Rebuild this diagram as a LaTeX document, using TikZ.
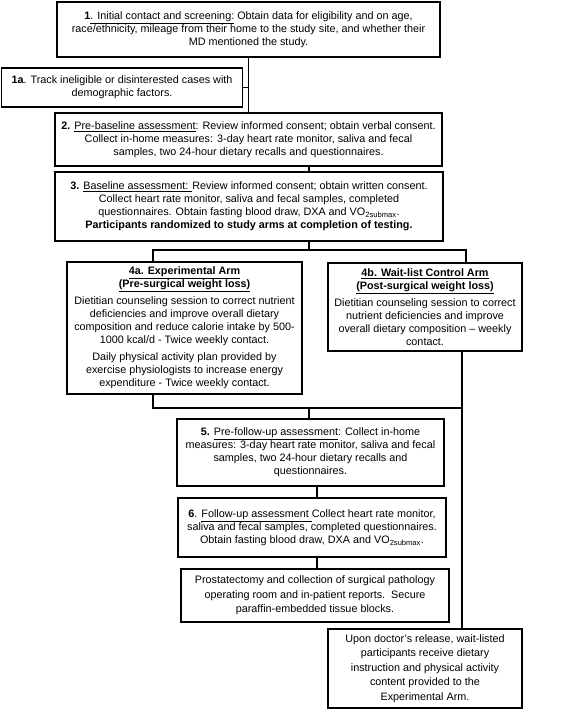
\documentclass[tikz,border=0pt]{standalone}
\usepackage{fontspec}
\setmainfont{Liberation Sans}
\usepackage{tikz}
\usetikzlibrary{arrows}

\begin{document}
\begin{tikzpicture}[x=1pt, y=-1pt,
		box/.style={draw, line width=1.6pt, align=center, inner xsep=1pt, inner ysep=2pt, font=\fontsize{10.8}{13}\selectfont},
		loose/.style={font=\fontsize{10.8}{14.4}\selectfont},
		link/.style={line width=1.6pt}]
		\useasboundingbox (0,0) rectangle (565,710);
		% screening
		\node[box, minimum width=383, minimum height=55] (n1) at (248.5,29.5) {\textbf{1}\underline{. Initial contact and screening:} Obtain data for eligibility and on age,\\ race/ethnicity, mileage from their home to the study site, and whether their\\ MD mentioned the study.};
		\node[box, minimum width=241, minimum height=39] (n1a) at (122,87.5) {\textbf{1a}. Track ineligible or disinterested cases with\\ demographic factors.};
		% assessments before randomisation
		\node[box, minimum width=387, minimum height=53] (n2) at (248.5,139.5) {\textbf{2.} \underline{Pre-baseline assessment}: Review informed consent; obtain verbal consent.\\ Collect in-home measures: 3-day heart rate monitor, saliva and fecal\\ samples, two 24-hour dietary recalls and questionnaires.};
		\node[box, line width=2.4pt, minimum width=388, minimum height=69] (n3) at (249,206.5) {\textbf{3.} \underline{Baseline assessment: }Review informed consent; obtain written consent.\\ Collect heart rate monitor, saliva and fecal samples, completed\\ questionnaires. Obtain fasting blood draw, DXA and VO\textsubscript{2submax}.\\ \textbf{Participants randomized to study arms at completion of testing.}};
		% study arms
		\node[box, minimum width=235, minimum height=132] (n4a) at (184.5,328) {\underline{\textbf{4a. Experimental Arm}}\\ \underline{\textbf{(Pre-surgical weight loss)}}\\[4pt] Dietitian counseling session to correct nutrient\\ deficiencies and improve overall dietary\\ composition and reduce calorie intake by 500-\\ 1000 kcal/d - Twice weekly contact.\\[4pt] Daily physical activity plan provided by\\ exercise physiologists to increase energy\\ expenditure - Twice weekly contact.};
		\node[box, minimum width=194, minimum height=88] (n4b) at (425,307) {\underline{\textbf{4b. Wait-list Control Arm}}\\ \underline{\textbf{(Post-surgical weight loss)}}\\[4pt] Dietitian counseling session to correct\\ nutrient deficiencies and improve\\ overall dietary composition -- weekly\\ contact.};
		% follow-up
		\node[box, minimum width=267, minimum height=67] (n5) at (310.5,452.5) {\textbf{5.} \underline{Pre-follow-up assessment}: Collect in-home\\ measures: 3-day heart rate monitor, saliva and fecal\\ samples, two 24-hour dietary recalls and\\ questionnaires.};
		\node[box, minimum width=268, minimum height=59] (n6) at (312,527.5) {\textbf{6}. \underline{Follow-up assessment }Collect heart rate monitor,\\ saliva and fecal samples, completed questionnaires.\\ Obtain fasting blood draw, DXA and VO\textsubscript{2submax}.};
		\node[box, loose, minimum width=268, minimum height=53] (n7) at (315,595.5) {Prostatectomy and collection of surgical pathology\\ operating room and in-patient reports.\ \ Secure\\ paraffin-embedded tissue blocks.};
		\node[box, loose, minimum width=194, minimum height=79] (n8) at (425,668.5) {Upon doctor's release, wait-listed\\ participants receive dietary\\ instruction and physical activity\\ content provided to the\\ Experimental Arm.};
		% connectors
		\coordinate (s3) at (309,250);
		\coordinate (c4a) at (153,250);
		\coordinate (c4b) at (466,250);
		\coordinate (m4) at (309,408);
		\coordinate (m4b) at (462,408);
		\coordinate (c6) at (317,0);
		\draw[link] (n1.south) -- (n2.north);
		\draw[link] (n1a.east) -- (n1a.east -| n1.south);
		\draw[link] (n2.south -| s3) -- (n3.north -| s3);
		\draw[link] (n3.south -| s3) -- (s3);
		\draw[link] (n4a.north -| c4a) -- (c4a) -- (c4b) -- (n4b.north -| c4b);
		\draw[link] (n4a.south -| c4a) |- (m4b);
		\draw[link] (m4) -- (n5.north -| m4);
		\draw[link] (n4b.south -| m4b) -- (n8.north -| m4b);
		\draw[link] (n5.south -| c6) -- (n6.north -| c6);
		\draw[link] (n6.south -| c6) -- (n7.north -| c6);
\end{tikzpicture}
\end{document}
